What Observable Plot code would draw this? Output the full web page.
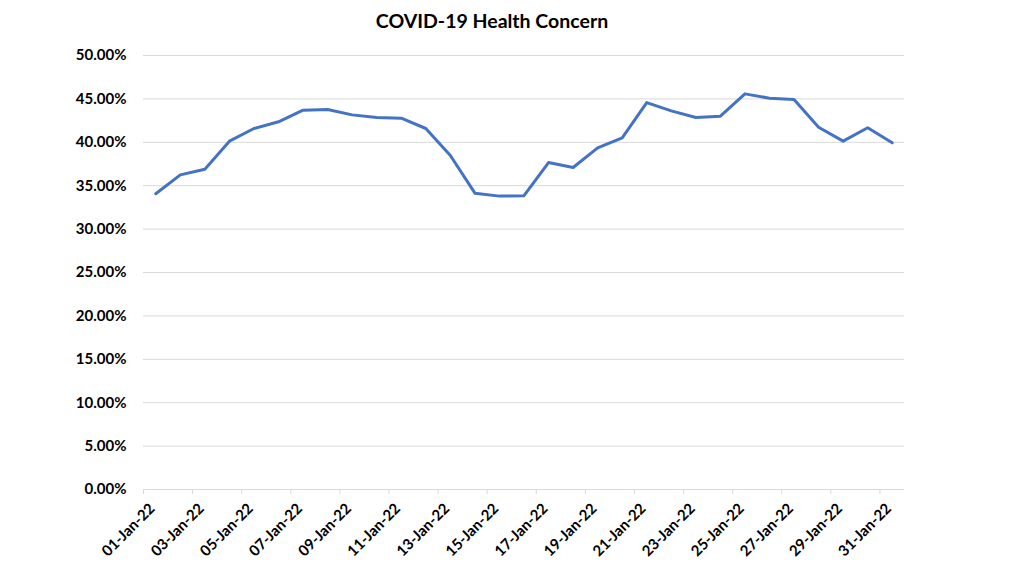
<!DOCTYPE html>
<html>
<head>
<meta charset="utf-8">
<script src="https://cdn.jsdelivr.net/npm/d3@7"></script>
<script src="https://cdn.jsdelivr.net/npm/@observablehq/plot@0.6"></script>
<style>
  html, body { margin: 0; padding: 0; background: #fff; }
  #wrap { position: relative; width: 1024px; height: 576px; overflow: hidden; }
  #title { position: absolute; left: 0; width: 984px; top: 9px; text-align: center;
           font-family: Lato, "Open Sans", sans-serif; font-weight: bold; font-size: 19.5px; color: #000; }
  #chart { position: absolute; left: 0; top: 0; }
</style>
</head>
<body>
<div id="wrap">
  <div id="chart"></div>
  <div id="title">COVID-19 Health Concern</div>
</div>
<script>
const dates = ["01-Jan-22","02-Jan-22","03-Jan-22","04-Jan-22","05-Jan-22","06-Jan-22","07-Jan-22","08-Jan-22",
  "09-Jan-22","10-Jan-22","11-Jan-22","12-Jan-22","13-Jan-22","14-Jan-22","15-Jan-22","16-Jan-22",
  "17-Jan-22","18-Jan-22","19-Jan-22","20-Jan-22","21-Jan-22","22-Jan-22","23-Jan-22","24-Jan-22",
  "25-Jan-22","26-Jan-22","27-Jan-22","28-Jan-22","29-Jan-22","30-Jan-22","31-Jan-22"];
const values = [0.3407,0.3625,0.3690,0.4013,0.4159,0.4236,0.4370,0.4378,
  0.4316,0.4286,0.4278,0.4159,0.3848,0.3414,0.3380,0.3385,
  0.3767,0.3710,0.3936,0.4050,0.4458,0.4362,0.4286,0.4301,
  0.4558,0.4508,0.4493,0.4174,0.4013,0.4167,0.3994];
const yTicks = [0,0.05,0.10,0.15,0.20,0.25,0.30,0.35,0.40,0.45,0.50];

const data = dates.map((d, i) => ({day: i + 1, label: d, value: values[i]}));
const labelDays = data.filter((d, i) => i % 2 === 0).map(d => d.day);
const boundaries = labelDays.map(d => d - 0.5);

const fmt = d3.format(".2%");
const plot = Plot.plot({
  width: 1024,
  height: 576,
  marginLeft: 143,
  marginRight: 120,
  marginTop: 55,
  marginBottom: 87,
  style: {fontFamily: "Lato, 'Open Sans', sans-serif", fontSize: "15px", fontWeight: "bold", color: "#000", background: "#fff"},
  x: {domain: [0.5, dates.length + 0.5], axis: null},
  y: {domain: [0, 0.5], axis: null},
  marks: [
    Plot.gridY(yTicks, {stroke: "#d9d9d9", strokeOpacity: 1, strokeWidth: 1}),
    Plot.axisY(yTicks, {label: null, tickSize: 0, tickPadding: 17, tickFormat: fmt, fontWeight: "bold", fill: "#000", fontSize: 15}),
    Plot.axisX(boundaries, {label: null, tickSize: 5, stroke: "#d9d9d9", strokeOpacity: 1, tickFormat: () => ""}),
    Plot.text(labelDays, {x: d => d, text: d => dates[d - 1], frameAnchor: "bottom", dy: 20, rotate: -45,
      textAnchor: "end", fontWeight: "bold", fontSize: 15, fill: "#000"}),
    Plot.lineY(data, {x: "day", y: "value", stroke: "#4472C4", strokeWidth: 3, strokeLinejoin: "round"})
  ]
});
document.getElementById("chart").appendChild(plot);
</script>
</body>
</html>
